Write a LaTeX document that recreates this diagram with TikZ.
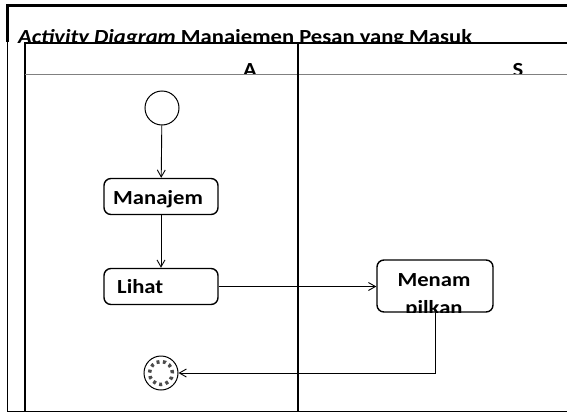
\documentclass[tikz,border=0pt]{standalone}
\usepackage{fontspec}
\setmainfont{Carlito}
\newfontfamily\lblfont[FakeStretch=1.13]{Carlito}
\usetikzlibrary{arrows.meta}
\begin{document}
\begin{tikzpicture}[x=1pt,y=-1pt,
  lbl/.style={font=\lblfont\fontsize{20}{24}\selectfont\bfseries, inner sep=0pt},
  act/.style={draw, line width=1.4pt, rounded corners=7pt, minimum width=114pt, minimum height=36pt, inner sep=0pt},
  flow/.style={line width=0.9pt, -{Straight Barb[length=7pt,width=8pt,line width=0.9pt]}},
  heavy/.style={line width=2.5pt},
  thin/.style={line width=1.3pt}]
\useasboundingbox (0,0) rectangle (567,415);
% title, cut at the top of the inner frame
\begin{scope}
  \clip (0,0) rectangle (567,42);
  \node[lbl, anchor=base west] (title) at (18,43.8) {\textit{Activity Diagram} Manajemen Pesan yang Masuk};
\end{scope}
% lane headers, cut at the header line
\begin{scope}
  \clip (25,43) rectangle (567,74);
  \node[lbl, anchor=base] (laneA) at (250,76.5) {A};
  \node[lbl, anchor=base] (laneS) at (518,76.5) {S};
\end{scope}
% outer frame
\draw[line width=3pt] (6,5.5) -- (567,5.5);
\draw[heavy] (7.5,4) -- (7.5,42);
\draw[thin] (7.5,42) -- (7.5,412);
\draw[thin] (7,411.5) -- (567,411.5);
% inner frame and swimlanes
\draw[heavy] (24,43) -- (567,43);
\draw[heavy] (25,42) -- (25,75);
\draw[line width=1.5pt] (25,75) -- (25,412);
\draw[gray, line width=1pt] (25,74.5) -- (567,74.5);
\draw[line width=2pt] (298,43) -- (298,75);
\draw[thin] (298,75) -- (298,412);
% nodes
\node[circle, draw, line width=1pt, minimum size=34pt, inner sep=0pt] (start) at (162,108) {};
\node[act] (manage) at (161,196.5) {};
\node[lbl, anchor=base west] (manageText) at (113,204) {Manajem};
\node[act] (lihat) at (161,286.5) {};
\node[lbl, anchor=base west] (lihatText) at (117,293.5) {Lihat};
\node[act, minimum width=116pt, minimum height=52pt] (menam) at (435,286) {};
\begin{scope}
  \clip[rounded corners=7pt] (menam.south west) rectangle (menam.north east);
  \node[lbl, anchor=base] (menamText) at (434,286) {Menam};
  \node[lbl, anchor=base] (menamText2) at (434,314) {pilkan};
\end{scope}
\node[circle, draw, line width=1pt, minimum size=34pt, inner sep=0pt] (end) at (161,373) {};
\draw[gray!60!black, line width=3.5pt, dash pattern=on 3pt off 3.5pt] (end.center) circle[radius=11.5pt];
% connectors
\draw[flow] (start) -- (manage);
\draw[flow] (manage) -- (lihat);
\draw[flow] (lihat.east) -- (lihat.east -| menam.west);
\draw[flow] (menam.south) |- (end);
\end{tikzpicture}
\end{document}
